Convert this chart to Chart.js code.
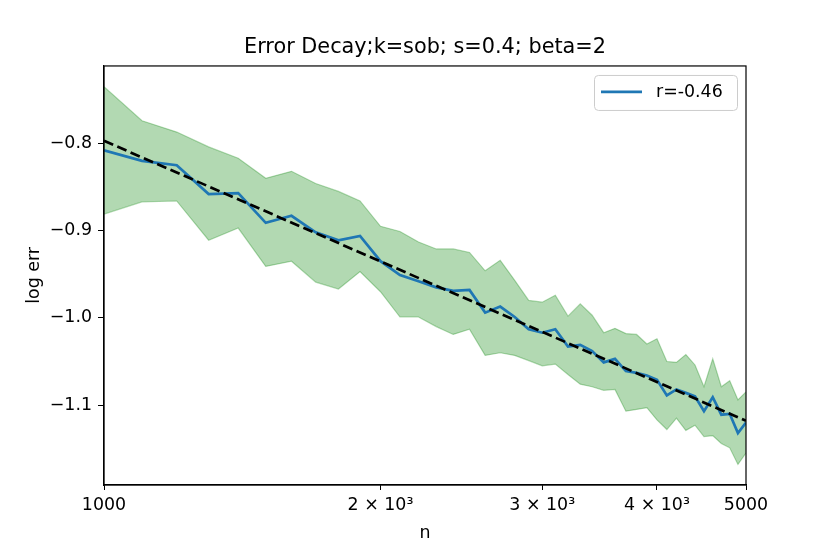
<!DOCTYPE html>
<html lang="en">
<head>
    <meta charset="UTF-8">
    <title>Error Decay</title>
    <script src="https://cdn.jsdelivr.net/npm/chart.js"></script>
    <style>
        html, body {margin: 0; padding: 0; background: #fff;}
        #wrap {width: 830px; height: 554px;}
    </style>
</head>
<body>
<div id="wrap">
    <canvas id="myChart" width="830" height="554"></canvas>
</div>
<script>
    // sample sizes (x, log scale)
    const nVals = [1000, 1100, 1200, 1300, 1400, 1500, 1600, 1700, 1800, 1900,
                   2000, 2100, 2200, 2300, 2400, 2500, 2600, 2700, 2800, 2900,
                   3000, 3100, 3200, 3300, 3400, 3500, 3600, 3700, 3800, 3900,
                   4000, 4100, 4200, 4300, 4400, 4500, 4600, 4700, 4800, 4900, 5000];
    // mean log error
    const meanErr = [-0.808, -0.820, -0.825, -0.858, -0.857, -0.891, -0.883, -0.902, -0.911, -0.906,
                     -0.935, -0.951, -0.958, -0.965, -0.969, -0.968, -0.994, -0.987, -0.999, -1.013,
                     -1.017, -1.013, -1.033, -1.031, -1.038, -1.051, -1.047, -1.061, -1.063, -1.066,
                     -1.071, -1.089, -1.082, -1.086, -1.090, -1.107, -1.091, -1.111, -1.110, -1.132, -1.120];
    // band
    const lowerErr = [-0.881, -0.867, -0.866, -0.911, -0.897, -0.941, -0.935, -0.959, -0.967, -0.947,
                      -0.970, -0.999, -0.999, -1.010, -1.019, -1.013, -1.043, -1.040, -1.043, -1.049,
                      -1.055, -1.053, -1.065, -1.076, -1.079, -1.083, -1.082, -1.107, -1.105, -1.103,
                      -1.117, -1.128, -1.115, -1.129, -1.123, -1.136, -1.135, -1.144, -1.149, -1.168, -1.155];
    const upperErr = [-0.735, -0.774, -0.787, -0.804, -0.817, -0.840, -0.832, -0.846, -0.855, -0.866,
                      -0.895, -0.901, -0.913, -0.921, -0.921, -0.925, -0.946, -0.934, -0.957, -0.980,
                      -0.982, -0.974, -0.998, -0.984, -0.997, -1.017, -1.012, -1.018, -1.019, -1.030,
                      -1.024, -1.050, -1.051, -1.042, -1.054, -1.079, -1.047, -1.079, -1.072, -1.094, -1.085];
    // fitted line (dashed)
    const fitX = [1000, 5000];
    const fitY = [-0.797, -1.118];
    const fitLabel = "r=-0.46";

    // ticks
    const xTickVals = [1000, 2000, 3000, 4000, 5000];
    const xTickLabels = ["1000", "2 \u00d7 10\u00b3", "3 \u00d7 10\u00b3", "4 \u00d7 10\u00b3", "5000"];
    const yTickVals = [-0.8, -0.9, -1.0, -1.1];
    const yTickLabels = ["\u22120.8", "\u22120.9", "\u22121.0", "\u22121.1"];

    const FONT = "'DejaVu Sans', sans-serif";

    function pts(xs, ys) {
        return xs.map(function (x, i) { return {x: x, y: ys[i]}; });
    }

    // box round the plot
    const frame = {
        id: 'frame',
        afterDatasetsDraw(chart) {
            const c = chart.ctx, a = chart.chartArea;
            c.save();
            c.strokeStyle = '#000';
            c.lineWidth = 1.2;
            c.strokeRect(a.left, a.top, a.right - a.left, a.bottom - a.top);
            c.restore();
        }
    };

    // legend inside the axes (upper right)
    const innerLegend = {
        id: 'innerLegend',
        afterDraw(chart) {
            const c = chart.ctx, a = chart.chartArea;
            const ds = chart.data.datasets[1];
            const w = 143, h = 35;
            const x0 = a.right - 9 - w, y0 = a.top + 9;
            c.save();
            c.fillStyle = 'rgba(255,255,255,0.8)';
            c.strokeStyle = '#cccccc';
            c.lineWidth = 1;
            c.beginPath();
            c.roundRect(x0 + 0.5, y0 + 0.5, w, h, 4);
            c.fill();
            c.stroke();
            c.strokeStyle = ds.borderColor;
            c.lineWidth = ds.borderWidth;
            c.beginPath();
            c.moveTo(x0 + 7, y0 + 17);
            c.lineTo(x0 + 48, y0 + 17);
            c.stroke();
            c.fillStyle = '#000';
            c.font = '17.4px ' + FONT;
            c.textBaseline = 'middle';
            c.fillText(ds.label, x0 + 62, y0 + 18);
            c.restore();
        }
    };

    const ctx = document.getElementById('myChart');
    new Chart(ctx, {
        type: 'line',
        data: {
            datasets: [{
                label: 'fit',
                data: pts(fitX, fitY),
                borderColor: '#000',
                borderWidth: 2.7,
                borderDash: [10, 4.5],
                pointRadius: 0,
                fill: false,
                order: 0
            }, {
                label: fitLabel,
                data: pts(nVals, meanErr),
                borderColor: '#1f77b4',
                borderWidth: 2.7,
                pointRadius: 0,
                fill: false,
                order: 1
            }, {
                label: 'upper',
                data: pts(nVals, upperErr),
                borderColor: 'rgba(0,128,0,0.3)',
                backgroundColor: 'rgba(0,128,0,0.3)',
                borderWidth: 1.2,
                pointRadius: 0,
                fill: '+1',
                order: 2
            }, {
                label: 'lower',
                data: pts(nVals, lowerErr),
                borderColor: 'rgba(0,128,0,0.3)',
                borderWidth: 1.2,
                pointRadius: 0,
                fill: false,
                order: 3
            }]
        },
        options: {
            responsive: false,
            animation: false,
            devicePixelRatio: 1,
            layout: {padding: {left: 0, right: 84, top: 0, bottom: 0}},
            elements: {line: {tension: 0}},
            plugins: {
                legend: {display: false},
                tooltip: {enabled: false},
                title: {
                    display: true,
                    fullSize: false,
                    text: 'Error Decay;k=sob; s=0.4; beta=2',
                    color: '#000',
                    font: {family: FONT, size: 20.8, weight: 'normal', lineHeight: 1.2},
                    padding: {top: 35, bottom: 6}
                }
            },
            scales: {
                x: {
                    type: 'logarithmic',
                    min: 1000,
                    max: 5000,
                    afterBuildTicks: function (scale) {
                        scale.ticks = xTickVals.map(function (v) { return {value: v}; });
                    },
                    afterFit: function (scale) { scale.height = 69; },
                    ticks: {
                        color: '#000',
                        font: {family: FONT, size: 17.4},
                        padding: 5,
                        maxRotation: 0,
                        autoSkip: false,
                        callback: function (v) {
                            const i = xTickVals.indexOf(v);
                            return i >= 0 ? xTickLabels[i] : '';
                        }
                    },
                    grid: {display: true, drawOnChartArea: false, drawTicks: true, tickLength: 5, color: '#000'},
                    border: {display: true, color: '#000', width: 1.2},
                    title: {
                        display: true,
                        text: 'n',
                        color: '#000',
                        font: {family: FONT, size: 17.4},
                        padding: {top: 0, bottom: 10}
                    }
                },
                y: {
                    type: 'linear',
                    min: -1.1916,
                    max: -0.7112,
                    afterBuildTicks: function (scale) {
                        scale.ticks = yTickVals.map(function (v) { return {value: v}; });
                    },
                    afterFit: function (scale) { scale.width = 104; },
                    ticks: {
                        color: '#000',
                        font: {family: FONT, size: 17.4},
                        padding: 6,
                        callback: function (v) {
                            const i = yTickVals.findIndex(function (t) { return Math.abs(t - v) < 1e-9; });
                            return i >= 0 ? yTickLabels[i] : '';
                        }
                    },
                    grid: {display: true, drawOnChartArea: false, drawTicks: true, tickLength: 6, color: '#000'},
                    border: {display: true, color: '#000', width: 1.2},
                    title: {
                        display: true,
                        text: 'log err',
                        color: '#000',
                        font: {family: FONT, size: 17.4},
                        padding: {top: 24, bottom: 0}
                    }
                }
            }
        },
        plugins: [frame, innerLegend]
    });
</script>
</body>
</html>
